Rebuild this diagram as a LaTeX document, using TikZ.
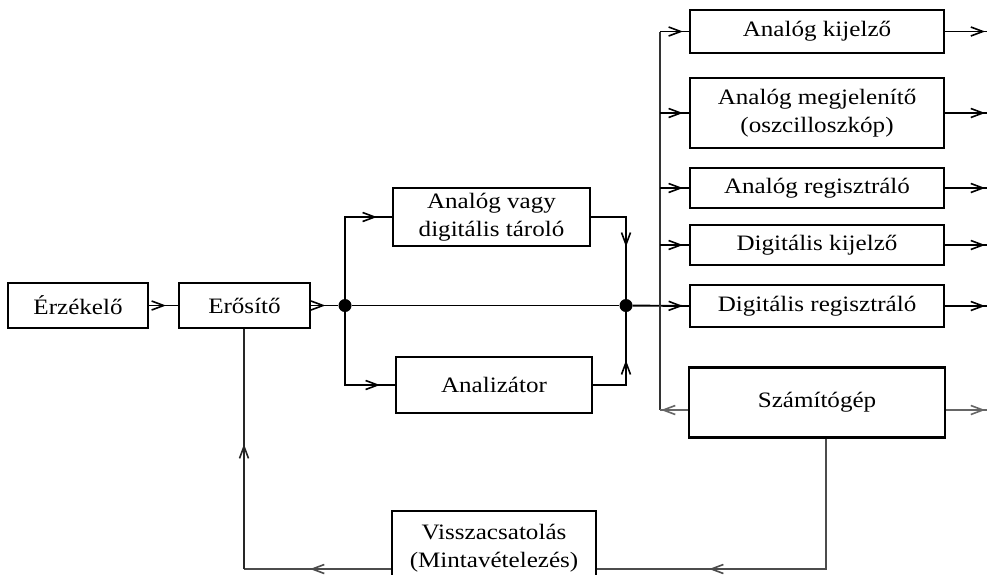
\documentclass[tikz,border=0pt]{standalone}
\usepackage{fontspec}
\setmainfont{Liberation Serif}
\usetikzlibrary{arrows.meta,decorations.markings,calc}
\newcommand\hs[1]{\scalebox{1.14}[1]{#1}}
\begin{document}
\begin{tikzpicture}[x=1pt,y=-1pt,
  box/.style={draw,line width=2.2pt,inner sep=0pt,align=center,font=\fontsize{22}{28}\selectfont},
  conn/.style={line width=1.9pt},
  arrat/.style={postaction={decorate},decoration={markings,mark=at position #1 with {\arrow[line width=1.6pt]{Straight Barb[length=12pt,width=9pt]}}}},
  dot/.style={circle,fill,inner sep=0pt,minimum size=13pt}]
\useasboundingbox (0,0) rectangle (987,574);
\node[box,minimum width=140pt,minimum height=45pt] (erz) at (78,305.5) {\hs{Érzékelő}};
\node[box,minimum width=131pt,minimum height=45pt] (ero) at (244.5,305.5) {\hs{Erősítő}};
\node[box,minimum width=197pt,minimum height=58pt] (tar) at (491.5,217) {\hs{Analóg vagy}\\\hs{digitális tároló}};
\node[box,minimum width=196pt,minimum height=56pt] (anl) at (494,385) {\hs{Analizátor}};
\node[box,minimum width=254pt,minimum height=43pt] (ak) at (817,31.5) {\hs{Analóg kijelző}};
\node[box,minimum width=254pt,minimum height=70pt] (am) at (817,113) {\hs{Analóg megjelenítő}\\\hs{(oszcilloszkóp)}};
\node[box,minimum width=254pt,minimum height=40pt] (ar) at (817,188) {\hs{Analóg regisztráló}};
\node[box,minimum width=254pt,minimum height=40pt] (dk) at (817,245) {\hs{Digitális kijelző}};
\node[box,minimum width=254pt,minimum height=42pt] (dr) at (817,306) {\hs{Digitális regisztráló}};
\node[box,minimum width=256pt,minimum height=70pt] (sz) at (817,402.5) {\hs{Számítógép}};
\node[box,minimum width=204pt,minimum height=74pt] (vis) at (494,548) {\hs{Visszacsatolás}\\\hs{(Mintavételezés)}};
\node[dot] (j1) at (345,305.5) {};
\node[dot] (j2) at (626,305.5) {};
\coordinate (bt) at (660,31.5);
\coordinate (bb) at (660,410);
\coordinate (fb1) at (826,569);
\coordinate (fb2) at (244,569);
% main chain
\draw[conn,arrat=-12pt] (erz) -- (ero);
\draw[conn,arrat=-13pt] (ero) -- (j1);
\draw[conn] (j1) -- (j2);
\draw[conn,arrat=-15pt] (j1) |- (tar.west);
\draw[conn,arrat=-15pt] (j1) |- (anl.west);
\draw[conn,arrat=-52pt] (tar.east) -| (j2);
\draw[conn,arrat=-48pt] (anl.east) -| (j2);
\draw[conn,arrat=-6pt] (j2) -- (dr.west);
% bus
\draw[conn,black!80] (bt) -- (bb);
\draw[conn,arrat=-6pt] (bt) -- (ak.west);
\draw[conn,arrat=-6pt] (bt |- am.west) -- (am.west);
\draw[conn,arrat=-6pt] (bt |- ar.west) -- (ar.west);
\draw[conn,arrat=-6pt] (bt |- dk.west) -- (dk.west);
\draw[conn,black!60,arrat=-1pt] (sz.west |- bb) -- (bb);
% outputs
\draw[conn,arrat=-2pt] (ak.east) -- ++(42,0);
\draw[conn,arrat=-2pt] (am.east) -- ++(42,0);
\draw[conn,arrat=-2pt] (ar.east) -- ++(42,0);
\draw[conn,arrat=-2pt] (dk.east) -- ++(42,0);
\draw[conn,arrat=-2pt] (dr.east) -- ++(42,0);
\draw[conn,black!60,arrat=-2pt] (sz.east |- bb) -- ++(41,0);
% feedback
\draw[conn,black!70,arrat=-112pt] (sz.south -| fb1) -- (fb1) -- (vis.east |- fb1);
\draw[conn,black!70,arrat=-66pt] (vis.west |- fb2) -- (fb2);
\draw[conn,black!85,arrat=-115pt] (fb2) -- (ero.south -| fb2);
\end{tikzpicture}
\end{document}
